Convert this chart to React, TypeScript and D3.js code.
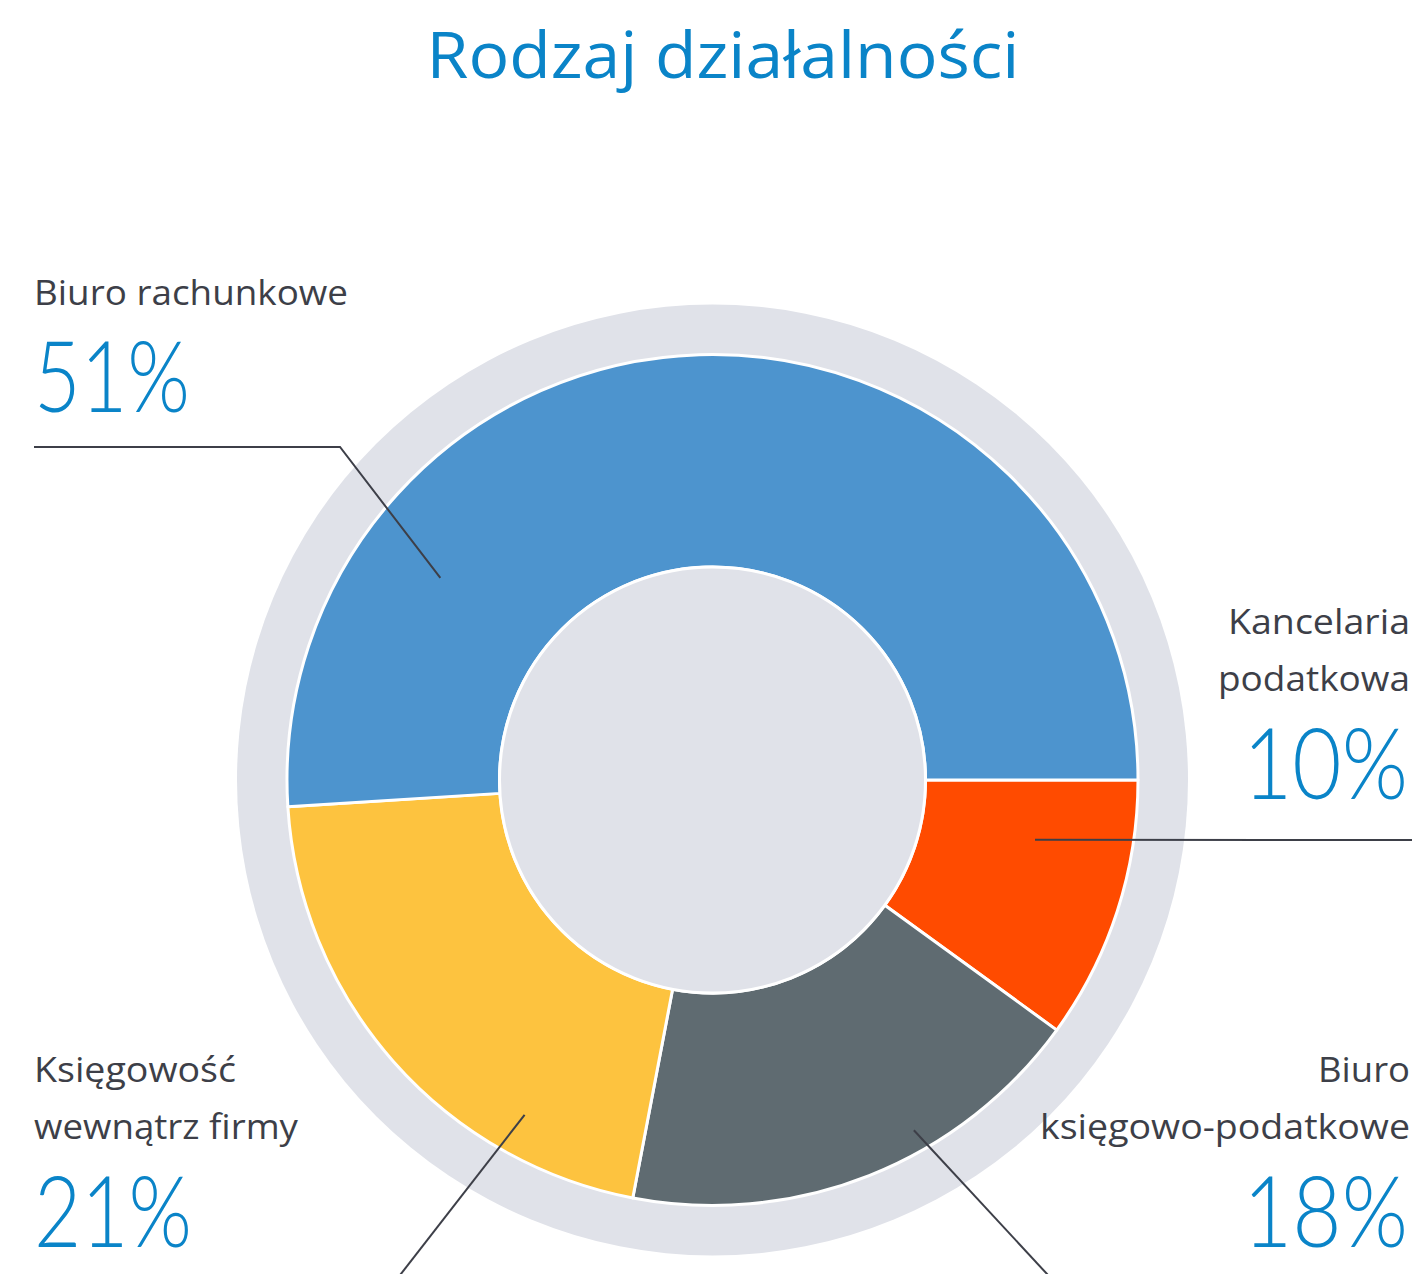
import React from "react";
import * as d3 from "d3";

const categories = ["Kancelaria podatkowa", "Biuro księgowo-podatkowe", "Księgowość wewnątrz firmy", "Biuro rachunkowe"];
const labelLines = [["Kancelaria", "podatkowa"], ["Biuro", "księgowo-podatkowe"], ["Księgowość", "wewnątrz firmy"], ["Biuro rachunkowe"]];
const values = [10, 18, 21, 51];
const colors = ["#ff4b00", "#5f6b71", "#fdc33f", "#4d94ce"];

const W = 1424;
const H = 1274;
const CX = 712.5;
const CY = 780;
const R_RING = 475.5;
const R_OUT = 425.5;
const R_IN = 213;

const TEXT = "#3d3f48";
const BLUE_TEXT = "#0a84c8";
const RING = "#e0e2e9";
const FONT = "'Open Sans', 'Noto Sans', sans-serif";
const PCT_FONT = "Lato, 'Open Sans', sans-serif";
const PCT_SCALE = 0.86;

// label layout: per category (same order)
const labelLayout = [
  { anchor: "end", x: 1410, y: 634, pctX: 1243, pctY: 799, pctW: 165, lineW: [182, 192], leader: { angle: 100.5, r: 328, end: [1412, 840] } },
  { anchor: "end", x: 1410, y: 1082, pctX: 1243, pctY: 1247, pctW: 165, lineW: [92, 370], leader: { angle: 150.1, r: 404, end: [1060, 1288] } },
  { anchor: "start", x: 34, y: 1082, pctX: 34, pctY: 1247, pctW: 158, lineW: [202, 264], leader: { angle: 209.3, r: 384, end: [390, 1288] } },
  { anchor: "start", x: 34, y: 305, pctX: 34, pctY: 412, pctW: 156, lineW: [314], leader: { angle: -53.4, r: 339, elbow: [340, 447], end: [34, 447] } },
];

export default function App() {
  const pie = d3
    .pie<number>()
    .sort(null)
    .startAngle(Math.PI / 2)
    .endAngle(Math.PI / 2 + 2 * Math.PI)
    .value((d) => d);
  const arcs = pie(values);
  const arc = d3.arc<d3.PieArcDatum<number>>().innerRadius(R_IN).outerRadius(R_OUT);

  const polar = (deg: number, r: number) => {
    const a = (deg * Math.PI) / 180;
    return [CX + r * Math.sin(a), CY - r * Math.cos(a)];
  };

  return (
    <svg
      width={W}
      height={H}
      style={{ position: "absolute", left: 0, top: 0, background: "#fff" }}
      fontFamily={FONT}
    >
      <text x={723} y={78} textAnchor="middle" fontSize={64} fill={BLUE_TEXT} textLength={593} lengthAdjust="spacingAndGlyphs">
        Rodzaj działalności
      </text>

      <circle cx={CX} cy={CY} r={R_RING} fill={RING} />
      <g transform={`translate(${CX},${CY})`}>
        {arcs.map((a, i) => (
          <path key={i} d={arc(a) || ""} fill={colors[i]} stroke="#fff" strokeWidth={3} strokeLinejoin="round" />
        ))}
        <circle r={R_IN} fill={RING} stroke="#fff" strokeWidth={3} />
      </g>

      {labelLayout.map((l, i) => {
        const p = polar(l.leader.angle, l.leader.r);
        const pts: number[][] = [p];
        if ((l.leader as any).elbow) pts.push((l.leader as any).elbow);
        pts.push(l.leader.end);
        const line = d3.line()(pts as [number, number][]) || "";
        return (
          <g key={i}>
            <path d={line} fill="none" stroke={TEXT} strokeWidth={2} />
            {labelLines[i].map((t, j) => (
              <text
                key={j}
                x={l.anchor === "end" ? l.x - l.lineW[j] : l.x}
                y={l.y + j * 57}
                fontSize={35}
                fill={TEXT}
                textLength={l.lineW[j]}
                lengthAdjust="spacingAndGlyphs"
              >
                {t}
              </text>
            ))}
            <g transform={`translate(${l.pctX},${l.pctY}) scale(${PCT_SCALE},1)`}>
              <text
                x={0}
                y={0}
                fontSize={99}
                fontFamily={PCT_FONT}
                fontWeight={300}
                fill={BLUE_TEXT}
                textLength={l.pctW / PCT_SCALE}
                lengthAdjust="spacingAndGlyphs"
              >
                {`${values[i]}%`}
              </text>
            </g>
          </g>
        );
      })}
    </svg>
  );
}
